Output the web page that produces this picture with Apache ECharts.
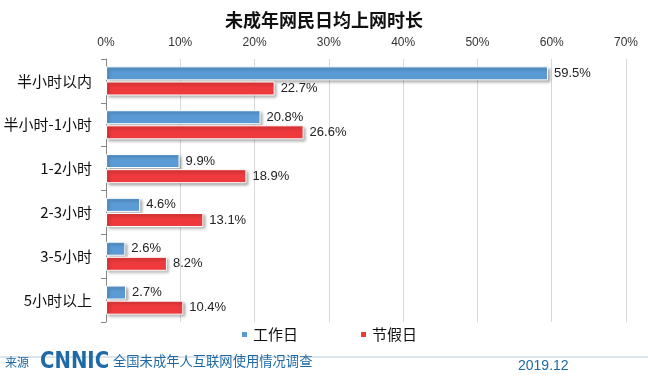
<!DOCTYPE html>
<html><head><meta charset="utf-8">
<script src="https://cdn.jsdelivr.net/npm/echarts@6/dist/echarts.min.js"></script>
<style>html,body{margin:0;padding:0;background:#fff}#c{width:648px;height:377px}</style>
</head><body><div id="c"></div>
<script>
const categories = ['半小时以内','半小时-1小时','1-2小时','2-3小时','3-5小时','5小时以上'];
const workday = [59.5, 20.8, 9.9, 4.6, 2.6, 2.7];
const holiday = [22.7, 26.6, 18.9, 13.1, 8.2, 10.4];
const seriesNames = ['工作日','节假日'];
const chart = echarts.init(document.getElementById('c'));
const font = '"Liberation Sans", Arial, "Noto Sans CJK SC", sans-serif';
const cjk = '"Noto Sans CJK SC", sans-serif';
const barStyle = c => ({color:c, borderColor:'#fff', borderWidth:1, shadowColor:'rgba(0,0,0,0.35)', shadowBlur:3, shadowOffsetX:2, shadowOffsetY:2});
const lbl = {show:true, position:'right', distance:6, formatter:'{c}%', fontFamily:font, fontSize:13, color:'#222'};
chart.setOption({
  animation:false,
  title:{text:'未成年网民日均上网时长', left:'center', top:6, textStyle:{fontFamily:cjk, fontSize:18, fontWeight:'bold', color:'#111'}},
  grid:{left:106, right:22, top:59, bottom:55},
  legend:{top:322, left:235, itemGap:61, itemWidth:7, itemHeight:7, icon:'rect', textStyle:{fontFamily:cjk, fontSize:15, color:'#111'}, data:seriesNames},
  xAxis:{type:'value', position:'top', min:0, max:70, interval:10,
    axisLabel:{formatter:'{value}%', fontFamily:font, fontSize:12, color:'#333', margin:10},
    axisLine:{show:false}, axisTick:{show:false},
    splitLine:{lineStyle:{color:'#d9d9d9'}}},
  yAxis:{type:'category', inverse:true, data:categories,
    axisLine:{show:true, lineStyle:{color:'#888'}},
    axisTick:{show:true, length:5, lineStyle:{color:'#888'}},
    axisLabel:{fontFamily:cjk, fontSize:15, color:'#111', margin:14}},
  series:[
    {name:seriesNames[0], type:'bar', data:workday, barWidth:14, barGap:'8%', itemStyle:barStyle('#5b9bd5'), label:lbl},
    {name:seriesNames[1], type:'bar', data:holiday, barWidth:14, barGap:'8%', itemStyle:barStyle('#ee3a3d'), label:lbl}
  ],
  graphic:[
    {type:'line', shape:{x1:0,y1:357,x2:648,y2:357}, style:{stroke:'#b8ccd8', lineWidth:1}},
    {type:'text', x:5, y:362, style:{text:'来源', fontFamily:cjk, fontSize:12, fill:'#1f6aa5', verticalAlign:'middle'}},
    {type:'text', x:40, y:362, scaleX:0.95, style:{text:'CNNIC', fontFamily:'"DejaVu Sans Condensed", "DejaVu Sans", sans-serif', fontSize:23, fontWeight:'bold', fill:'#1f6aa5', verticalAlign:'middle'}},
    {type:'text', x:113, y:361, style:{text:'全国未成年人互联网使用情况调查', fontFamily:cjk, fontSize:13.3, fill:'#1f6aa5', verticalAlign:'middle'}},
    {type:'text', x:518, y:366, style:{text:'2019.12', fontFamily:font, fontSize:14, fill:'#1f6aa5', verticalAlign:'middle'}}
  ]
});
</script></body></html>
